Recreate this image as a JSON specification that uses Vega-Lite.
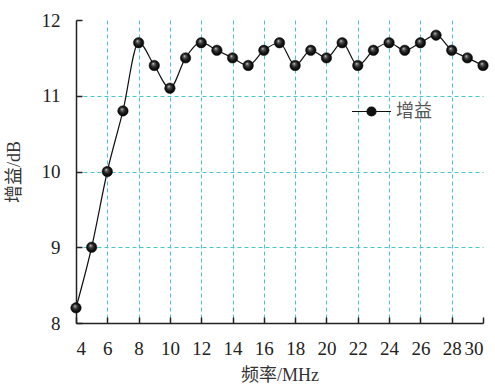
{
  "$schema": "https://vega.github.io/schema/vega-lite/v6.json",
  "width": 407,
  "height": 303,
  "autosize": {"type": "none"},
  "padding": {"left": 76, "top": 20, "right": 12, "bottom": 64},
  "background": "white",
  "data": {"values": [
    {"f": 4, "g": 8.2, "s": "增益"},
    {"f": 5, "g": 9.0, "s": "增益"},
    {"f": 6, "g": 10.0, "s": "增益"},
    {"f": 7, "g": 10.8, "s": "增益"},
    {"f": 8, "g": 11.7, "s": "增益"},
    {"f": 9, "g": 11.4, "s": "增益"},
    {"f": 10, "g": 11.1, "s": "增益"},
    {"f": 11, "g": 11.5, "s": "增益"},
    {"f": 12, "g": 11.7, "s": "增益"},
    {"f": 13, "g": 11.6, "s": "增益"},
    {"f": 14, "g": 11.5, "s": "增益"},
    {"f": 15, "g": 11.4, "s": "增益"},
    {"f": 16, "g": 11.6, "s": "增益"},
    {"f": 17, "g": 11.7, "s": "增益"},
    {"f": 18, "g": 11.4, "s": "增益"},
    {"f": 19, "g": 11.6, "s": "增益"},
    {"f": 20, "g": 11.5, "s": "增益"},
    {"f": 21, "g": 11.7, "s": "增益"},
    {"f": 22, "g": 11.4, "s": "增益"},
    {"f": 23, "g": 11.6, "s": "增益"},
    {"f": 24, "g": 11.7, "s": "增益"},
    {"f": 25, "g": 11.6, "s": "增益"},
    {"f": 26, "g": 11.7, "s": "增益"},
    {"f": 27, "g": 11.8, "s": "增益"},
    {"f": 28, "g": 11.6, "s": "增益"},
    {"f": 29, "g": 11.5, "s": "增益"},
    {"f": 30, "g": 11.4, "s": "增益"}
  ]},
  "config": {
    "view": {"stroke": null},
    "axis": {
      "labelFont": "Liberation Serif",
      "labelFontSize": 19,
      "labelColor": "#222",
      "titleFont": "Liberation Serif, Noto Sans CJK SC",
      "titleFontSize": 18,
      "titleFontWeight": "normal",
      "titleColor": "#333",
      "domainColor": "#222",
      "domainWidth": 1.5,
      "tickColor": "#222",
      "tickWidth": 1.5,
      "tickSize": -6,
      "gridColor": "#4ec4d2",
      "gridDash": [4, 3],
      "gridWidth": 1
    }
  },
  "encoding": {
    "x": {
      "field": "f", "type": "quantitative",
      "scale": {"domain": [4, 30], "nice": false, "zero": false},
      "axis": {
        "title": "频率/MHz",
        "values": [4, 6, 8, 10, 12, 14, 16, 18, 20, 22, 24, 26, 28, 30],
        "labelPadding": 22,
        "titlePadding": 8,
        "gridColor": {"condition": {"test": "datum.value <= 4 || datum.value >= 30", "value": "transparent"}, "value": "#4ec4d2"}
      }
    },
    "y": {
      "field": "g", "type": "quantitative",
      "scale": {"domain": [8, 12], "nice": false, "zero": false},
      "axis": {
        "title": "增益/dB",
        "values": [8, 9, 10, 11, 12],
        "labelPadding": 22,
        "titlePadding": 18,
        "gridColor": {"condition": {"test": "datum.value <= 8 || datum.value >= 12", "value": "transparent"}, "value": "#4ec4d2"}
      }
    }
  },
  "layer": [
    {
      "mark": {"type": "line", "interpolate": "monotone", "color": "#111", "strokeWidth": 1.2}
    },
    {
      "mark": {
        "type": "point", "filled": true, "size": 110, "opacity": 1,
        "stroke": "#111", "strokeWidth": 0.5,
        "fill": {
          "gradient": "radial",
          "x1": 0.38, "y1": 0.32, "r1": 0,
          "x2": 0.5, "y2": 0.5, "r2": 0.5,
          "stops": [
            {"offset": 0, "color": "#f0f0f0"},
            {"offset": 0.22, "color": "#666666"},
            {"offset": 0.55, "color": "#222222"},
            {"offset": 1, "color": "#000000"}
          ]
        }
      },
      "encoding": {
        "color": {
          "field": "s", "type": "nominal",
          "scale": {"range": ["#111"]},
          "legend": {
            "title": null,
            "orient": "none",
            "legendX": 275,
            "legendY": 71,
            "padding": 0,
            "symbolType": "M-1,0H-0.23M0.23,0H1M-0.23,0A0.23,0.23 0 1,0 0.23,0A0.23,0.23 0 1,0 -0.23,0Z",
            "symbolSize": 1521,
            "symbolStrokeWidth": 1.2,
            "symbolStrokeColor": "#111",
            "symbolFillColor": "#111",
            "labelFont": "Noto Sans CJK SC",
            "labelFontSize": 18,
            "labelColor": "#555",
            "labelOffset": 4
          }
        }
      }
    }
  ]
}
